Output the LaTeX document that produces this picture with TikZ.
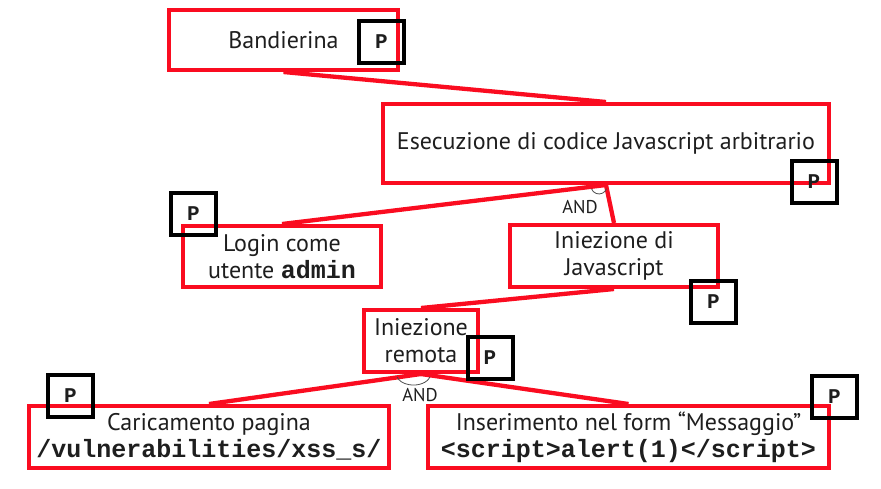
\documentclass[tikz,border=0pt]{standalone}
\usepackage{fontspec}
\setmainfont{PT Sans}
\setmonofont{Liberation Mono}
\definecolor{boxred}{RGB}{250,12,32}
\definecolor{txt}{RGB}{30,30,30}
\newcommand{\cd}[1]{{\ttfamily\bfseries\fontsize{25}{27}\selectfont #1}}
\begin{document}
\begin{tikzpicture}[x=1pt,y=-1pt,
  rbox/.style={draw=boxred, line width=4pt, fill=white, inner sep=0pt, align=center,
    font=\fontsize{24}{27}\selectfont, text=txt},
  pbox/.style={draw=black, line width=4pt, minimum width=45pt, minimum height=42pt,
    inner sep=0pt, font=\ttfamily\bfseries\fontsize{21}{21}\selectfont, text=txt},
  edgeline/.style={draw=boxred, line width=4.3pt},
  andarc/.style={draw=black!70, line width=0.8pt},
  andlbl/.style={font=\fontsize{18.5}{18.5}\selectfont, text=txt, inner sep=0pt}]
\useasboundingbox (0,0) rectangle (881,488);
% anchor coordinates for boxes
\coordinate (cband) at (283.5,40);
\coordinate (cesec) at (606,143.5);
\coordinate (clogin) at (282,256.5);
\coordinate (cinjs) at (614,256);
\coordinate (crem) at (421,341);
\coordinate (ccar) at (209,437);
\coordinate (cins) at (628.5,437);
% invisible placement for edges
\begin{scope}
\node[rbox, draw=none, fill=none, minimum width=229pt, minimum height=60pt] (band) at (cband) {};
\node[rbox, draw=none, fill=none, minimum width=446pt, minimum height=79pt] (esec) at (cesec) {};
\node[rbox, draw=none, fill=none, minimum width=198pt, minimum height=61pt] (login) at (clogin) {};
\node[rbox, draw=none, fill=none, minimum width=208pt, minimum height=62pt] (injs) at (cinjs) {};
\node[rbox, draw=none, fill=none, minimum width=114pt, minimum height=62pt] (rem) at (crem) {};
\node[rbox, draw=none, fill=none, minimum width=360pt, minimum height=62pt] (car) at (ccar) {};
\node[rbox, draw=none, fill=none, minimum width=401pt, minimum height=62pt] (ins) at (cins) {};
\end{scope}
% connectors
\draw[edgeline] (band.south) -- (esec.north);
\draw[edgeline] (esec.south) -- (login.north);
\draw[edgeline] (esec.south) -- (injs.north);
\draw[edgeline] (injs.south) -- (rem.north);
\draw[edgeline] (rem.south) -- (car.north);
\draw[edgeline] (rem.south) -- (ins.north);
% AND arcs
\draw[andarc] ([shift={(0.5,3.7)}]esec.south) arc[start angle=20, end angle=160, radius=8];
\draw[andarc] ([shift={(8.9,2.9)}]rem.south) arc[start angle=15, end angle=165, x radius=17, y radius=11];
\node[andlbl] (and1) at (580,207.5) {AND};
\node[andlbl] (and2) at (420,395) {AND};
% boxes
\node[rbox, minimum width=229pt, minimum height=60pt] (bandb) at (cband) {Bandierina};
\node[rbox, minimum width=446pt, minimum height=79pt] (esecb) at (cesec) {Esecuzione di codice Javascript arbitrario};
\node[rbox, minimum width=198pt, minimum height=61pt] (loginb) at (clogin) {Login come\\utente \cd{admin}};
\node[rbox, minimum width=208pt, minimum height=62pt] (injsb) at (cinjs) {Iniezione di\\Javascript};
\node[rbox, minimum width=114pt, minimum height=62pt] (remb) at (crem) {Iniezione\\remota};
\node[rbox, minimum width=360pt, minimum height=62pt] (carb) at (ccar) {Caricamento pagina\\\cd{/vulnerabilities/xss\_s/}};
\node[rbox, minimum width=401pt, minimum height=62pt] (insb) at (cins) {Inserimento nel form “Messaggio”\\\cd{<script>alert(1)</script>}};
% P markers
\node[pbox] (p1) at (381.5,42) {P};
\node[pbox] (p2) at (814,181.5) {P};
\node[pbox] (p3) at (193.5,214) {P};
\node[pbox] (p4) at (713.5,302) {P};
\node[pbox] (p5) at (490,358) {P};
\node[pbox] (p6) at (70.5,395.5) {P};
\node[pbox] (p7) at (834.5,396.5) {P};
\end{tikzpicture}
\end{document}
